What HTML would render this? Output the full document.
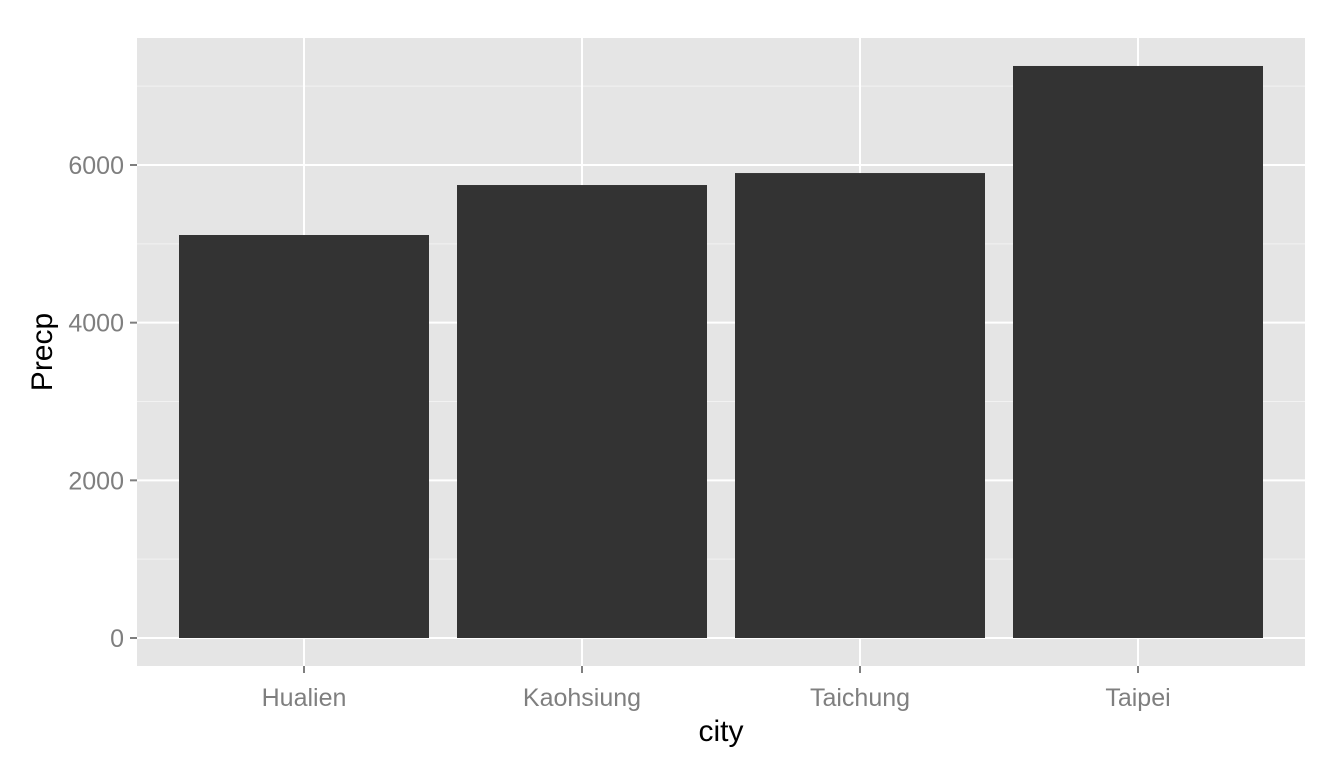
<!DOCTYPE html>
<html><head><meta charset="utf-8"><style>
body{margin:0;background:#fff;}
svg{display:block;font-family:"Liberation Sans",sans-serif;}
</style></head><body>
<svg id="chart" width="1344" height="768"></svg>
<script>
const categories=["Hualien","Kaohsiung","Taichung","Taipei"];
const values=[5112,5746,5898,7256];
const yTicks=[0,2000,4000,6000];
const yMinor=[1000,3000,5000,7000];
const NS="http://www.w3.org/2000/svg";
const svg=document.getElementById('chart');
const P={l:137,r:1305,t:38,b:666};
const y0=638, pxPer=(638-165)/6000;
function ys(v){return y0-v*pxPer;}
const step=278, x0=304;
function xs(i){return x0+i*step;}
function mk(tag,attrs,parent){const e=document.createElementNS(NS,tag);for(const k in attrs)e.setAttribute(k,attrs[k]);(parent||svg).appendChild(e);return e;}
const bg=mk('rect',{x:P.l,y:P.t,width:P.r-P.l,height:P.b-P.t,fill:'#e5e5e5'});


yMinor.forEach(v=>{const l=mk('line',{x1:P.l,x2:P.r,y1:ys(v),y2:ys(v),stroke:'#f2f2f2','stroke-width':1});

});
yTicks.forEach(v=>{const l=mk('line',{x1:P.l,x2:P.r,y1:ys(v),y2:ys(v),stroke:'#fff','stroke-width':2});


const t=mk('line',{x1:130,x2:137,y1:ys(v),y2:ys(v),stroke:'#7f7f7f','stroke-width':2});


const tx=mk('text',{x:124,y:ys(v)+9,'text-anchor':'end','font-size':25,fill:'#7f7f7f'});tx.textContent=v;

});
categories.forEach((c,i)=>{const x=xs(i);
const l=mk('line',{x1:x,x2:x,y1:P.t,y2:P.b,stroke:'#fff','stroke-width':2});


const t=mk('line',{x1:x,x2:x,y1:P.b,y2:P.b+7,stroke:'#7f7f7f','stroke-width':2});


const tx=mk('text',{x:x,y:706,'text-anchor':'middle','font-size':25,fill:'#7f7f7f'});tx.textContent=c;

});
values.forEach((v,i)=>{const w=250;
const b=mk('rect',{x:xs(i)-w/2,y:ys(v),width:w,height:ys(0)-ys(v),fill:'#333333'});

});
const xt=mk('text',{x:721,y:741,'text-anchor':'middle','font-size':30,fill:'#000'});xt.textContent='city';


const yt=mk('text',{x:0,y:0,'text-anchor':'middle','font-size':30,fill:'#000',transform:'translate(52,352) rotate(-90)'});yt.textContent='Precp';


</script>
</body></html>
